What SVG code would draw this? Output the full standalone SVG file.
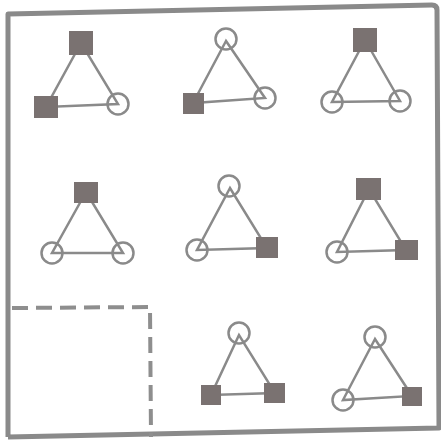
<svg xmlns="http://www.w3.org/2000/svg" width="441" height="442" viewBox="0 0 441 442">
<style>
.frame{fill:none;stroke:#8a8a8a;stroke-width:5;stroke-linejoin:round}
.dash{fill:none;stroke:#8e8e8e;stroke-width:4;stroke-dasharray:16 8}
.edge{stroke:#8a8a8a;stroke-width:2.5;fill:none}
.sq{fill:#7a7271;stroke:none}
.ci{fill:none;stroke:#8a8a8a;stroke-width:2.5}
</style>
<rect width="441" height="442" fill="#ffffff"/>
<path class="frame" d="M8,437 L8,14 L432,5 Q437,5 437,10 L439,428 L8,437"/>
<path class="dash" d="M12,308 L150,307 L151,437"/>
<g id="connectors">
<polygon class="edge" points="81,43 46,107 118,104"/>
<polygon class="edge" points="226,41 193,103 265,98"/>
<polygon class="edge" points="365,40 332,102 400,101"/>
<polygon class="edge" points="86,192 52,253 123,253"/>
<polygon class="edge" points="230,188 197,250 267,248"/>
<polygon class="edge" points="369,189 337,252 406,250"/>
<polygon class="edge" points="239,335 211,395 275,393"/>
<polygon class="edge" points="375,339 343,400 412,396"/>
</g>
<g id="n1a"><rect class="sq" x="69" y="31" width="24" height="24"/></g>
<g id="n1b"><rect class="sq" x="34" y="96" width="24" height="22"/></g>
<g id="n1c"><circle class="ci" cx="118" cy="104" r="10.5"/></g>
<g id="n2a"><circle class="ci" cx="226" cy="39" r="10.5"/></g>
<g id="n2b"><rect class="sq" x="183" y="93" width="21" height="21"/></g>
<g id="n2c"><circle class="ci" cx="265" cy="98" r="10.5"/></g>
<g id="n3a"><rect class="sq" x="353" y="28" width="24" height="24"/></g>
<g id="n3b"><circle class="ci" cx="332" cy="102" r="10.5"/></g>
<g id="n3c"><circle class="ci" cx="400" cy="101" r="10.5"/></g>
<g id="n4a"><rect class="sq" x="74" y="182" width="24" height="21"/></g>
<g id="n4b"><circle class="ci" cx="52" cy="253" r="10.5"/></g>
<g id="n4c"><circle class="ci" cx="123" cy="253" r="10.5"/></g>
<g id="n5a"><circle class="ci" cx="229" cy="186" r="10.5"/></g>
<g id="n5b"><circle class="ci" cx="197" cy="250" r="10.5"/></g>
<g id="n5c"><rect class="sq" x="256" y="237" width="22" height="21"/></g>
<g id="n6a"><rect class="sq" x="356" y="178" width="25" height="22"/></g>
<g id="n6b"><circle class="ci" cx="337" cy="252" r="10.5"/></g>
<g id="n6c"><rect class="sq" x="395" y="240" width="23" height="20"/></g>
<g id="n8a"><circle class="ci" cx="239" cy="333" r="10.5"/></g>
<g id="n8b"><rect class="sq" x="201" y="385" width="20" height="20"/></g>
<g id="n8c"><rect class="sq" x="264" y="383" width="21" height="20"/></g>
<g id="n9a"><circle class="ci" cx="375" cy="337" r="10.5"/></g>
<g id="n9b"><circle class="ci" cx="343" cy="400" r="10.5"/></g>
<g id="n9c"><rect class="sq" x="402" y="387" width="20" height="19"/></g>
</svg>
